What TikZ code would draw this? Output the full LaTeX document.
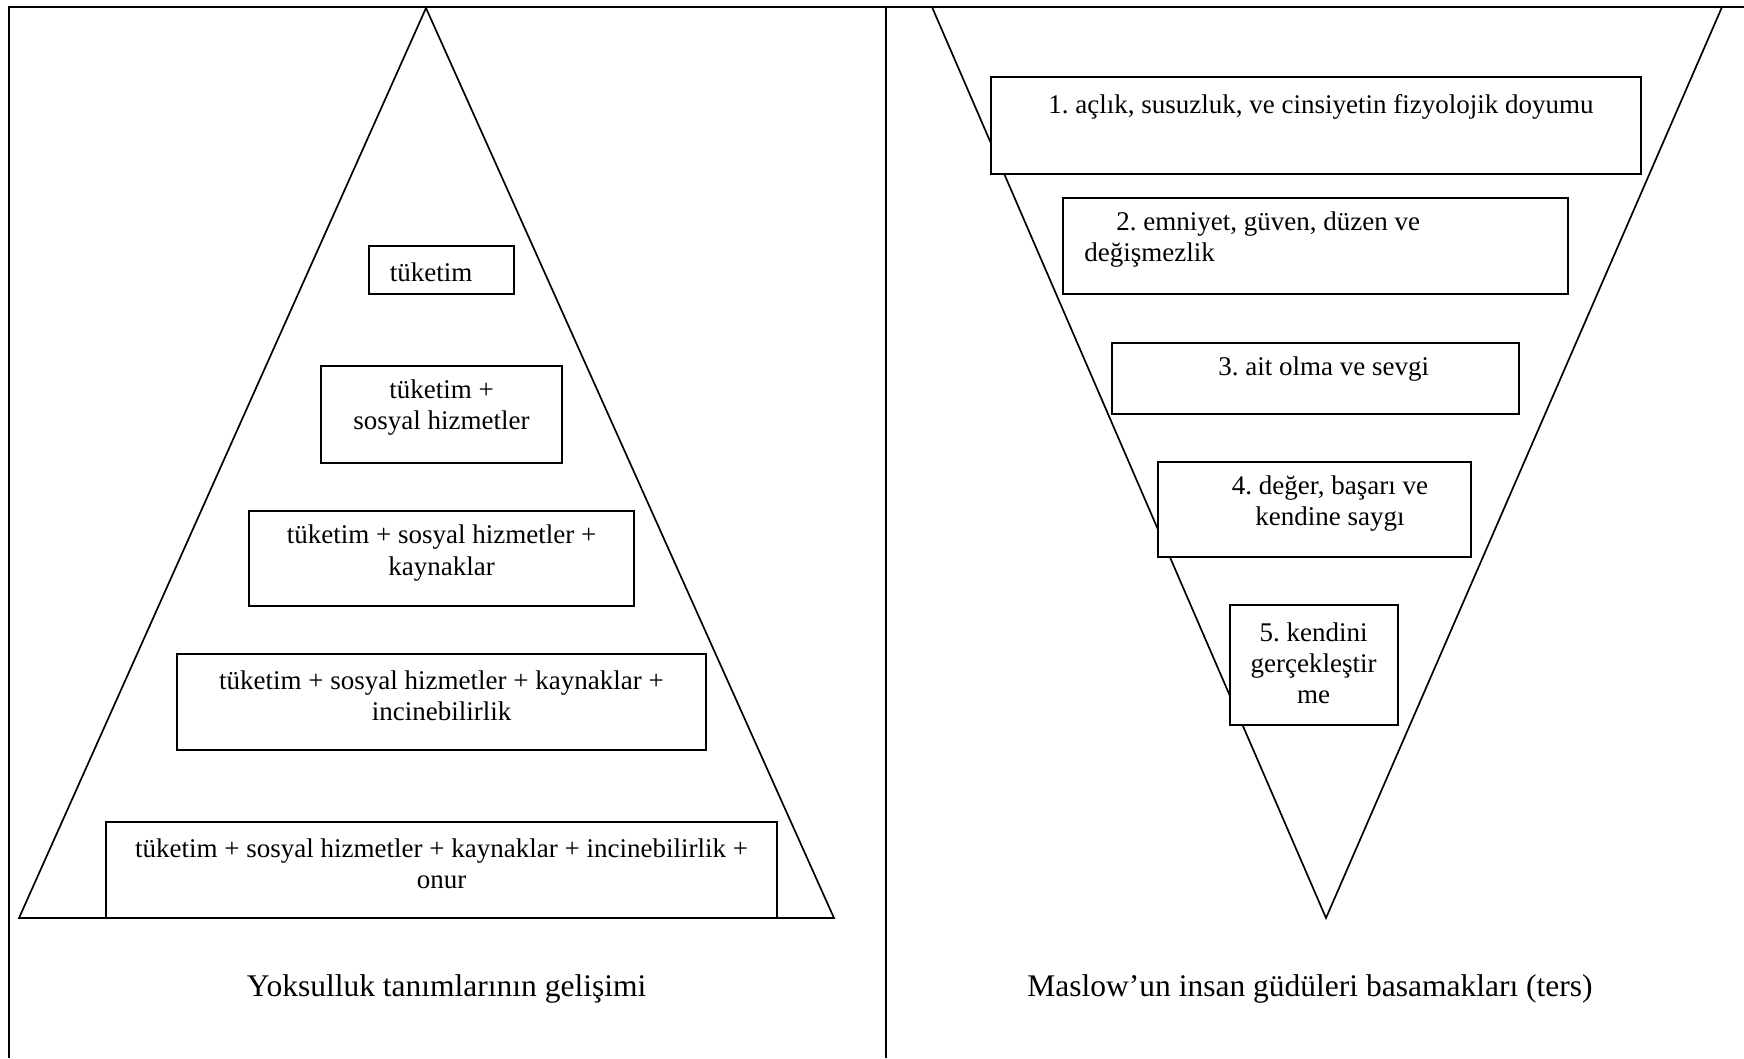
\documentclass[tikz,border=0pt]{standalone}
\usepackage{fontspec}
\setmainfont{Liberation Serif}
\usetikzlibrary{fit}
\frenchspacing
\begin{document}
\begin{tikzpicture}[x=0.4444pt,y=-0.4444pt,
  frameline/.style={line width=1pt},
  tri/.style={line width=0.75pt, line join=miter},
  box/.style={draw, line width=0.85pt, fill=white, inner sep=0pt},
  txt/.style={inner sep=0pt, font=\fontsize{12}{13.8}\selectfont, align=center},
  captext/.style={inner sep=0pt, font=\fontsize{14}{16}\selectfont}]
\useasboundingbox (0,0) rectangle (1744,1058);
\fill[white] (0,0) rectangle (1744,1058);
% frame
\coordinate (FTL) at (9,7);
\coordinate (FTR) at (1744,7);
\coordinate (FBL) at (9,1058);
\coordinate (DT) at (886,7);
\coordinate (DB) at (886,1058);
\draw[frameline] (FBL) -- (FTL) -- (FTR);
\draw[frameline] (DT) -- (DB);
% left triangle
\coordinate (LA) at (426,8);
\coordinate (LB1) at (19,918);
\coordinate (LB2) at (834,918);
\draw[tri] (LA) -- (LB1) -- (LB2) -- cycle;
% right triangle
\coordinate (RT1) at (932,7);
\coordinate (RT2) at (1722,7);
\coordinate (RA) at (1326,918);
\draw[tri] (RT1) -- (RT2) -- (RA) -- cycle;
% left boxes
\node[box, fit={(369,246) (514,294)}] (L1) {};
\node[box, fit={(321,366) (562,463)}] (L2) {};
\node[box, fit={(249,511) (634,606)}] (L3) {};
\node[box, fit={(177,654) (706,750)}] (L4) {};
\node[box, fit={(106,822) (777,918)}] (L5) {};
\node[txt] (L1t) at (431,272.5) {tüketim};
\node[txt] (L2t) at (441.5,407.6) {tüketim +\\sosyal hizmetler};
\node[txt] (L3t) at (441.5,553) {tüketim + sosyal hizmetler +\\kaynaklar};
\node[txt] (L4t) at (441.5,696) {tüketim + sosyal hizmetler + kaynaklar +\\incinebilirlik};
\node[txt] (L5t) at (441.5,864) {tüketim + sosyal hizmetler + kaynaklar + incinebilirlik +\\onur};
% right boxes
\node[box, fit={(991,77) (1641,174)}] (R1) {};
\node[box, fit={(1063,198) (1568,294)}] (R2) {};
\node[box, fit={(1112,343) (1519,414)}] (R3) {};
\node[box, fit={(1158,462) (1471,557)}] (R4) {};
\node[box, fit={(1230,605) (1398,725)}] (R5) {};
\node[txt] (R1t) at (1321,106.8) {1. açlık, susuzluk, ve cinsiyetin fizyolojik doyumu};
\node[txt, align=left, anchor=west] (R2t) at (1084,239.7) {\hspace*{14.2pt}2. emniyet, güven, düzen ve\\değişmezlik};
\node[txt] (R3t) at (1323.6,369) {3. ait olma ve sevgi};
\node[txt] (R4t) at (1330,503.8) {4. değer, başarı ve\\kendine saygı};
\node[txt] (R5t) at (1313.6,663.4) {5. kendini\\gerçekleştir\\me};
% captions
\node[captext] (CL) at (446.6,988.8) {Yoksulluk tanımlarının gelişimi};
\node[captext] (CR) at (1310,988.8) {Maslow’un insan güdüleri basamakları (ters)};
\end{tikzpicture}
\end{document}
